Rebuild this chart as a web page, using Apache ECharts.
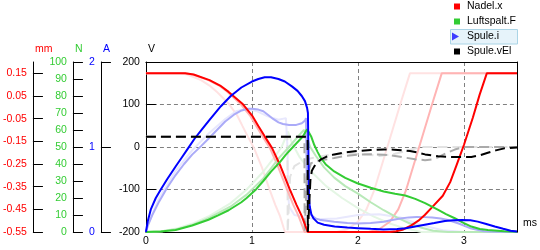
<!DOCTYPE html>
<html><head><meta charset="utf-8">
<script src="https://cdn.jsdelivr.net/npm/echarts@6/dist/echarts.min.js"></script>
<style>html,body{margin:0;padding:0;background:#fff}#c{width:540px;height:250px}</style>
</head><body><div id="c"></div>
<script>
// ---------- axis ticks ----------
const timeTicks = [0, 1, 2, 3];           // ms
const mmTicks = [-0.55, -0.45, -0.35, -0.25, -0.15, -0.05, 0.05, 0.15];

// ---------- Nadel.x (mm) ----------
const nadelT = [0, 0.37, 0.45, 0.6, 0.7, 0.78, 0.91, 1.0, 1.06, 1.12, 1.19, 1.27, 1.356, 1.42, 1.47, 1.51, 1.527, 2.3, 2.36, 2.42, 2.5, 2.57, 2.63, 2.7, 2.8, 2.87, 2.93, 3.0, 3.084, 3.147, 3.215, 3.5];
const nadelV = [0.15, 0.15, 0.145, 0.12, 0.096, 0.068, 0.016, -0.035, -0.082, -0.128, -0.18, -0.26, -0.361, -0.43, -0.48, -0.53, -0.55, -0.55, -0.547, -0.54, -0.522, -0.5, -0.475, -0.44, -0.39, -0.33, -0.255, -0.165, -0.045, 0.055, 0.15, 0.15];
const nadel1T = [0, 0.36, 0.44, 0.59, 0.69, 0.77, 0.89, 0.98, 1.04, 1.1, 1.17, 1.245, 1.33, 1.39, 1.44, 1.48, 1.495, 2.1, 2.2, 2.3, 2.38, 2.45, 2.6, 2.71, 2.79, 3.5];
const nadel1V = [0.15, 0.15, 0.145, 0.12, 0.096, 0.068, 0.016, -0.035, -0.082, -0.128, -0.18, -0.26, -0.361, -0.43, -0.48, -0.53, -0.55, -0.55, -0.538, -0.505, -0.45, -0.37, -0.14, 0.03, 0.15, 0.15];
const nadel2T = [0, 0.32, 0.39, 0.52, 0.6, 0.67, 0.78, 0.86, 0.91, 0.96, 1.02, 1.09, 1.165, 1.22, 1.265, 1.298, 1.312, 1.8, 1.9, 2.0, 2.08, 2.15, 2.3, 2.41, 2.49, 3.5];
const nadel2V = [0.15, 0.15, 0.145, 0.12, 0.096, 0.068, 0.016, -0.035, -0.082, -0.128, -0.18, -0.26, -0.361, -0.43, -0.48, -0.53, -0.55, -0.55, -0.538, -0.505, -0.45, -0.37, -0.14, 0.03, 0.15, 0.15];

// ---------- Luftspalt.F (N) ----------
const kraftT = [0, 0.14, 0.28, 0.436, 0.59, 0.68, 0.78, 0.9, 0.95, 1.04, 1.107, 1.18, 1.262, 1.32, 1.387, 1.44, 1.48, 1.52, 1.535, 1.56, 1.589, 1.62, 1.651, 1.7, 1.776, 1.88, 1.994, 2.12, 2.243, 2.35, 2.446, 2.54, 2.633, 2.757, 2.83, 2.913, 2.99, 3.069, 3.15, 3.225, 3.38, 3.5];
const kraftV = [0, 0.3, 1.2, 3.8, 7.2, 9.8, 12.8, 17.5, 20, 25.2, 30, 35.5, 41, 45.5, 50, 53.5, 56.2, 60.5, 61, 56, 51, 47, 43.4, 39.5, 35.6, 31.8, 28.7, 26, 23.8, 22.5, 21.5, 19.5, 17, 13, 10.5, 8.1, 5.5, 3.2, 1.8, 1.2, 0.4, 0.2];
const kraft1T = [0, 0.15, 0.3, 0.45, 0.6, 0.8, 0.95, 1.1, 1.262, 1.35, 1.418, 1.46, 1.49, 1.51, 1.55, 1.6, 1.68, 1.776, 1.88, 2.0, 2.12, 2.243, 2.37, 2.49, 2.6, 2.71, 2.85, 3.5];
const kraft1V = [0, 0.4, 1.8, 4.5, 8.5, 15, 22, 31, 44, 50, 55, 58, 60, 57, 50, 45, 38, 32, 27, 22.6, 17.5, 12.8, 8.5, 5, 2.5, 0.7, 0, 0];
const kraft2T = [0, 0.15, 0.3, 0.45, 0.6, 0.8, 0.95, 1.1, 1.2, 1.28, 1.34, 1.38, 1.45, 1.55, 1.7, 1.85, 2.0, 2.15, 2.3, 2.45, 2.6, 3.5];
const kraft2V = [0, 0.5, 2.2, 5.2, 9.5, 17, 25, 35, 43, 50, 59, 52, 44, 36, 27, 20, 14, 9, 5, 2, 0, 0];

// ---------- Spule.i (A) ----------
const stromT = [0, 0.016, 0.047, 0.093, 0.14, 0.2, 0.28, 0.34, 0.4, 0.46, 0.53, 0.6, 0.707, 0.8, 0.9, 1.0, 1.06, 1.12, 1.18, 1.25, 1.31, 1.38, 1.43, 1.47, 1.5, 1.52, 1.528, 1.533, 1.538, 1.545, 1.56, 1.58, 1.62, 1.68, 1.78, 1.9, 2.0, 2.12, 2.24, 2.37, 2.45, 2.54, 2.63, 2.72, 2.82, 2.9, 2.98, 3.06, 3.13, 3.21, 3.29, 3.37, 3.44, 3.5];
const stromV = [0, 0.12, 0.27, 0.4, 0.5, 0.62, 0.77, 0.88, 0.99, 1.1, 1.21, 1.32, 1.48, 1.6, 1.7, 1.77, 1.8, 1.82, 1.82, 1.8, 1.77, 1.71, 1.66, 1.6, 1.54, 1.46, 1.4, 0.9, 0.4, 0.3, 0.21, 0.16, 0.11, 0.085, 0.065, 0.052, 0.045, 0.037, 0.03, 0.035, 0.045, 0.065, 0.085, 0.105, 0.13, 0.138, 0.142, 0.137, 0.122, 0.095, 0.065, 0.038, 0.015, 0.005];
const strom1T = [0, 0.02, 0.06, 0.125, 0.2, 0.28, 0.36, 0.436, 0.52, 0.592, 0.67, 0.748, 0.83, 0.903, 0.96, 1.0, 1.06, 1.107, 1.15, 1.2, 1.25, 1.293, 1.35, 1.418, 1.47, 1.5, 1.51, 1.513, 1.518, 1.53, 1.557, 1.6, 1.65, 1.776, 1.9, 1.994, 2.12, 2.243, 2.32, 2.4, 2.48, 2.555, 2.63, 2.7, 2.78, 2.85, 2.95, 3.069, 3.19, 3.3, 3.5];
const strom1V = [0, 0.08, 0.2, 0.36, 0.52, 0.67, 0.8, 0.91, 1.01, 1.1, 1.2, 1.3, 1.38, 1.43, 1.45, 1.45, 1.44, 1.42, 1.38, 1.33, 1.29, 1.27, 1.26, 1.26, 1.28, 1.31, 1.34, 1.0, 0.5, 0.3, 0.2, 0.16, 0.14, 0.12, 0.105, 0.1, 0.105, 0.12, 0.14, 0.16, 0.172, 0.176, 0.175, 0.17, 0.158, 0.14, 0.1, 0.04, 0.01, 0.003, 0];
const strom2T = [0, 0.02, 0.125, 0.28, 0.436, 0.592, 0.748, 0.85, 0.95, 1.05, 1.15, 1.25, 1.32, 1.335, 1.34, 1.35, 1.4, 1.6, 1.8, 2.0, 2.2, 2.4, 2.6, 2.8, 3.0, 3.5];
const strom2V = [0, 0.09, 0.4, 0.72, 0.96, 1.16, 1.33, 1.42, 1.45, 1.42, 1.36, 1.32, 1.34, 1.0, 0.5, 0.3, 0.2, 0.15, 0.16, 0.2, 0.21, 0.17, 0.08, 0.02, 0, 0];

// ---------- Spule.vEl (V) ----------
const spannT = [0, 1.525, 1.527, 1.545, 1.552, 1.565, 1.589, 1.62, 1.651, 1.7, 1.776, 1.88, 1.994, 2.12, 2.243, 2.34, 2.42, 2.49, 2.56, 2.633, 2.7, 2.757, 2.83, 2.913, 3.0, 3.069, 3.15, 3.225, 3.3, 3.38, 3.5];
const spannV = [24, 24, -200, -200, -75, -56, -45, -36, -29, -23, -17.4, -12.5, -9.5, -7, -5.6, -6.2, -7.5, -9.5, -13, -17.4, -20, -21.5, -23, -23.6, -23.8, -23.6, -19.5, -13.4, -8, -3.2, -1];
const spann1T = [0, 1.495, 1.497, 1.51, 1.518, 1.557, 1.65, 1.776, 1.88, 2.0, 2.12, 2.243, 2.35, 2.446, 2.54, 2.633, 2.7, 2.757, 2.83, 2.913, 3.0, 3.5];
const spann1V = [24, 24, -200, -200, -70, -38, -31, -26, -21, -18, -17, -18, -21, -25, -29, -31, -29, -24, -15, -6, 0, 0];
const spann2T = [0, 1.335, 1.337, 1.35, 1.36, 1.4, 1.5, 1.6, 1.75, 1.9, 2.05, 2.2, 2.35, 2.5, 2.6, 3.5];
const spann2V = [24, 24, -200, -200, -70, -45, -30, -24, -18, -15, -17, -21, -16, -6, 0, 0];

// ---------- styling ----------
const FONT = 'Liberation Sans';
const FS = 10.5;
const GRIDC = '#808080';

function pairs(t, v) { return t.map((x, i) => [x, v[i]]); }
function line(name, t, v, yIdx, color, dashed) {
  return {
    type: 'line', name: name, data: pairs(t, v), xAxisIndex: 0, yAxisIndex: yIdx,
    showSymbol: false, symbol: 'none', silent: true, animation: false,
    lineStyle: { color: color, width: 2, type: dashed ? [10, 5] : 'solid' },
    itemStyle: { color: color }
  };
}

const SQ = 'path://M0,0M10,11M2,2.5h6v6h-6z';
const TRI = 'path://M0,0M10,11M0,1.5L7,5.5L0,9.5Z';

const lbl = (color) => ({ color: color, fontSize: FS, fontFamily: FONT });
function leftAxis(name, color, offset, extra) {
  return Object.assign({
    type: 'value', position: 'left', offset: offset,
    name: name, nameLocation: 'end', nameGap: 7,
    nameTextStyle: { color: color, fontSize: FS, fontFamily: FONT, align: 'left', verticalAlign: 'bottom', padding: [0, 0, 0, 2] },
    axisLine: { show: true, onZero: false, lineStyle: { color: '#000', width: 1 } },
    axisTick: { show: true, inside: true, length: 10, lineStyle: { color: '#000' } },
    axisLabel: Object.assign({ margin: 6 }, lbl(color)),
    splitLine: { show: false }
  }, extra);
}

const chart = echarts.init(document.getElementById('c'), null, { renderer: 'canvas' });
chart.setOption({
  animation: false,
  backgroundColor: '#fff',
  grid: { left: 143, right: 23, top: 62, bottom: 18, containLabel: false },
  xAxis: [{
    type: 'value', min: timeTicks[0], max: 3.5, interval: 1, position: 'bottom',
    name: 'ms', nameLocation: 'end', nameGap: 6,
    nameTextStyle: { color: '#000', fontSize: FS, fontFamily: FONT, align: 'left', verticalAlign: 'bottom', padding: [0, 0, 3, 0] },
    axisLine: { show: true, onZero: false, lineStyle: { color: '#000' } },
    axisTick: { show: false },
    axisLabel: Object.assign({ margin: 4, showMaxLabel: false }, lbl('#000')),
    splitLine: { show: true, showMinLine: false, showMaxLine: false, lineStyle: { color: GRIDC, type: [4, 3], width: 1 } }
  }, {
    type: 'value', min: 0, max: 1, position: 'top',
    axisLine: { show: true, onZero: false, lineStyle: { color: '#000' } },
    axisTick: { show: false }, axisLabel: { show: false }, splitLine: { show: false }
  }],
  yAxis: [
    leftAxis('V', '#000', 0, {
      min: -200, max: 200, interval: 100,
      splitLine: { show: true, showMinLine: false, showMaxLine: false, lineStyle: { color: GRIDC, type: [4, 3], width: 1 } }
    }),
    leftAxis('A', '#0000ff', 45, { min: 0, max: 2, interval: 1 }),
    leftAxis('N', '#33cc33', 73, { min: 0, max: 100, interval: 10 }),
    leftAxis('mm', '#ff0000', 113, {
      min: -0.55, max: 0.2,
      axisTick: { show: true, inside: true, length: 10, lineStyle: { color: '#000' }, customValues: mmTicks },
      axisLabel: Object.assign({ margin: 6, customValues: mmTicks, formatter: (v) => v.toFixed(2) }, lbl('#ff0000'))
    }),
    {
      type: 'value', position: 'right', min: 0, max: 1,
      axisLine: { show: true, onZero: false, lineStyle: { color: '#000' } },
      axisTick: { show: false }, axisLabel: { show: false }, splitLine: { show: false }
    }
  ],
  legend: {
    orient: 'vertical', left: 452, top: 1, padding: 0,
    itemWidth: 10, itemHeight: 11, itemGap: 4, selectedMode: false,
    textStyle: { fontSize: FS, fontFamily: FONT, color: '#000' },
    data: [
      { name: 'Nadel.x', icon: SQ, itemStyle: { color: '#ff0000', borderWidth: 0 } },
      { name: 'Luftspalt.F', icon: SQ, itemStyle: { color: '#33cc33', borderWidth: 0 } },
      { name: 'Spule.i', icon: TRI, itemStyle: { color: '#3c3cff', borderWidth: 0 } },
      { name: 'Spule.vEl', icon: SQ, itemStyle: { color: '#000000', borderWidth: 0 } }
    ]
  },
  graphic: [{
    type: 'rect', x: 0, y: 0, z: 0, silent: true,
    shape: { x: 450.5, y: 29.5, width: 67, height: 14.5 },
    style: { fill: '#e6f3fa', stroke: '#aad4e6', lineWidth: 1 }
  }],
  series: [
    line('Nadel.x run3', nadel2T, nadel2V, 3, '#ffe2e2', false),
    line('Luftspalt.F run3', kraft2T, kraft2V, 2, '#e4f6e4', false),
    line('Spule.i run3', strom2T, strom2V, 1, '#e8e8fd', false),
    line('Spule.vEl run3', spann2T, spann2V, 0, '#e2e2e2', true),
    line('Nadel.x run2', nadel1T, nadel1V, 3, '#ffb4b4', false),
    line('Luftspalt.F run2', kraft1T, kraft1V, 2, '#b8e9b8', false),
    line('Spule.i run2', strom1T, strom1V, 1, '#ababf8', false),
    line('Spule.vEl run2', spann1T, spann1V, 0, '#aaaaaa', true),
    line('Nadel.x', nadelT, nadelV, 3, '#ff0000', false),
    line('Luftspalt.F', kraftT, kraftV, 2, '#33cc33', false),
    line('Spule.i', stromT, stromV, 1, '#0000ff', false),
    line('Spule.vEl', spannT, spannV, 0, '#000000', true)
  ]
});
</script>
</body></html>
